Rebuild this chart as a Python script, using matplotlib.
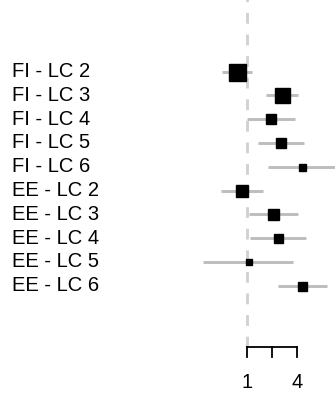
import matplotlib
matplotlib.use("Agg")
import matplotlib.pyplot as plt
import numpy as np

labels = ["FI - LC 2", "FI - LC 3", "FI - LC 4", "FI - LC 5", "FI - LC 6",
          "EE - LC 2", "EE - LC 3", "EE - LC 4", "EE - LC 5", "EE - LC 6"]
estimate = [0.77, 2.64, 1.95, 2.59, 4.67, 0.885, 2.09, 2.40, 1.06, 4.67]
lower = [0.51, 1.69, 1.00, 1.36, 1.82, 0.49, 1.06, 1.10, 0.30, 2.40]
upper = [1.15, 4.11, 3.81, 4.90, 12.0, 1.58, 4.18, 5.18, 3.58, 9.19]
weight = [17, 15, 10, 10, 7, 12, 11, 9, 6, 9]  # box size (relative)
tick_values = [1, 2, 4]
tick_labels = ["1", "", "4"]

W, H, DPI = 335, 394, 100
fig = plt.figure(figsize=(W / DPI, H / DPI), dpi=DPI)
ax = fig.add_axes([0, 0, 1, 1])
ax.set_xscale("log", base=2)
ax.set_xlim(2 ** (-246.7 / 25), 2 ** ((335 - 246.7) / 25))
ax.set_ylim(13.55, -3.01)
ax.axis("off")

rows = np.arange(len(labels))

# reference line (drawn from the axis upward)
ax.plot([1, 1], [11.57, -3.1], color="#d2d2d2", lw=2.1, dashes=(3.7, 3.7), zorder=1)

for r, e, lo, hi, w in zip(rows, estimate, lower, upper, weight):
    ax.plot([lo, hi], [r, r], color="#bdbdbd", lw=2.1, zorder=2, solid_capstyle="butt")
    ax.plot([e], [r], marker="s", color="black", markersize=w * 0.72, zorder=3, lw=0)

font = ["Liberation Sans", "DejaVu Sans"]
for r, lab in zip(rows, labels):
    ax.text(12 / W, r, lab, transform=ax.get_yaxis_transform(), ha="left", va="center",
            fontsize=14.5, family=font, color="black")

# x axis
ax_y = 11.57
ax.plot([tick_values[0], tick_values[-1]], [ax_y, ax_y], color="black", lw=1.3, zorder=2, solid_capstyle="projecting")
for tv, tl in zip(tick_values, tick_labels):
    ax.plot([tv, tv], [ax_y, 12.0], color="black", lw=1.3, zorder=2)
    if tl:
        ax.text(tv, 13.08, tl, ha="center", va="center", fontsize=14.5, family=font)

fig.savefig("out.png", dpi=DPI)
